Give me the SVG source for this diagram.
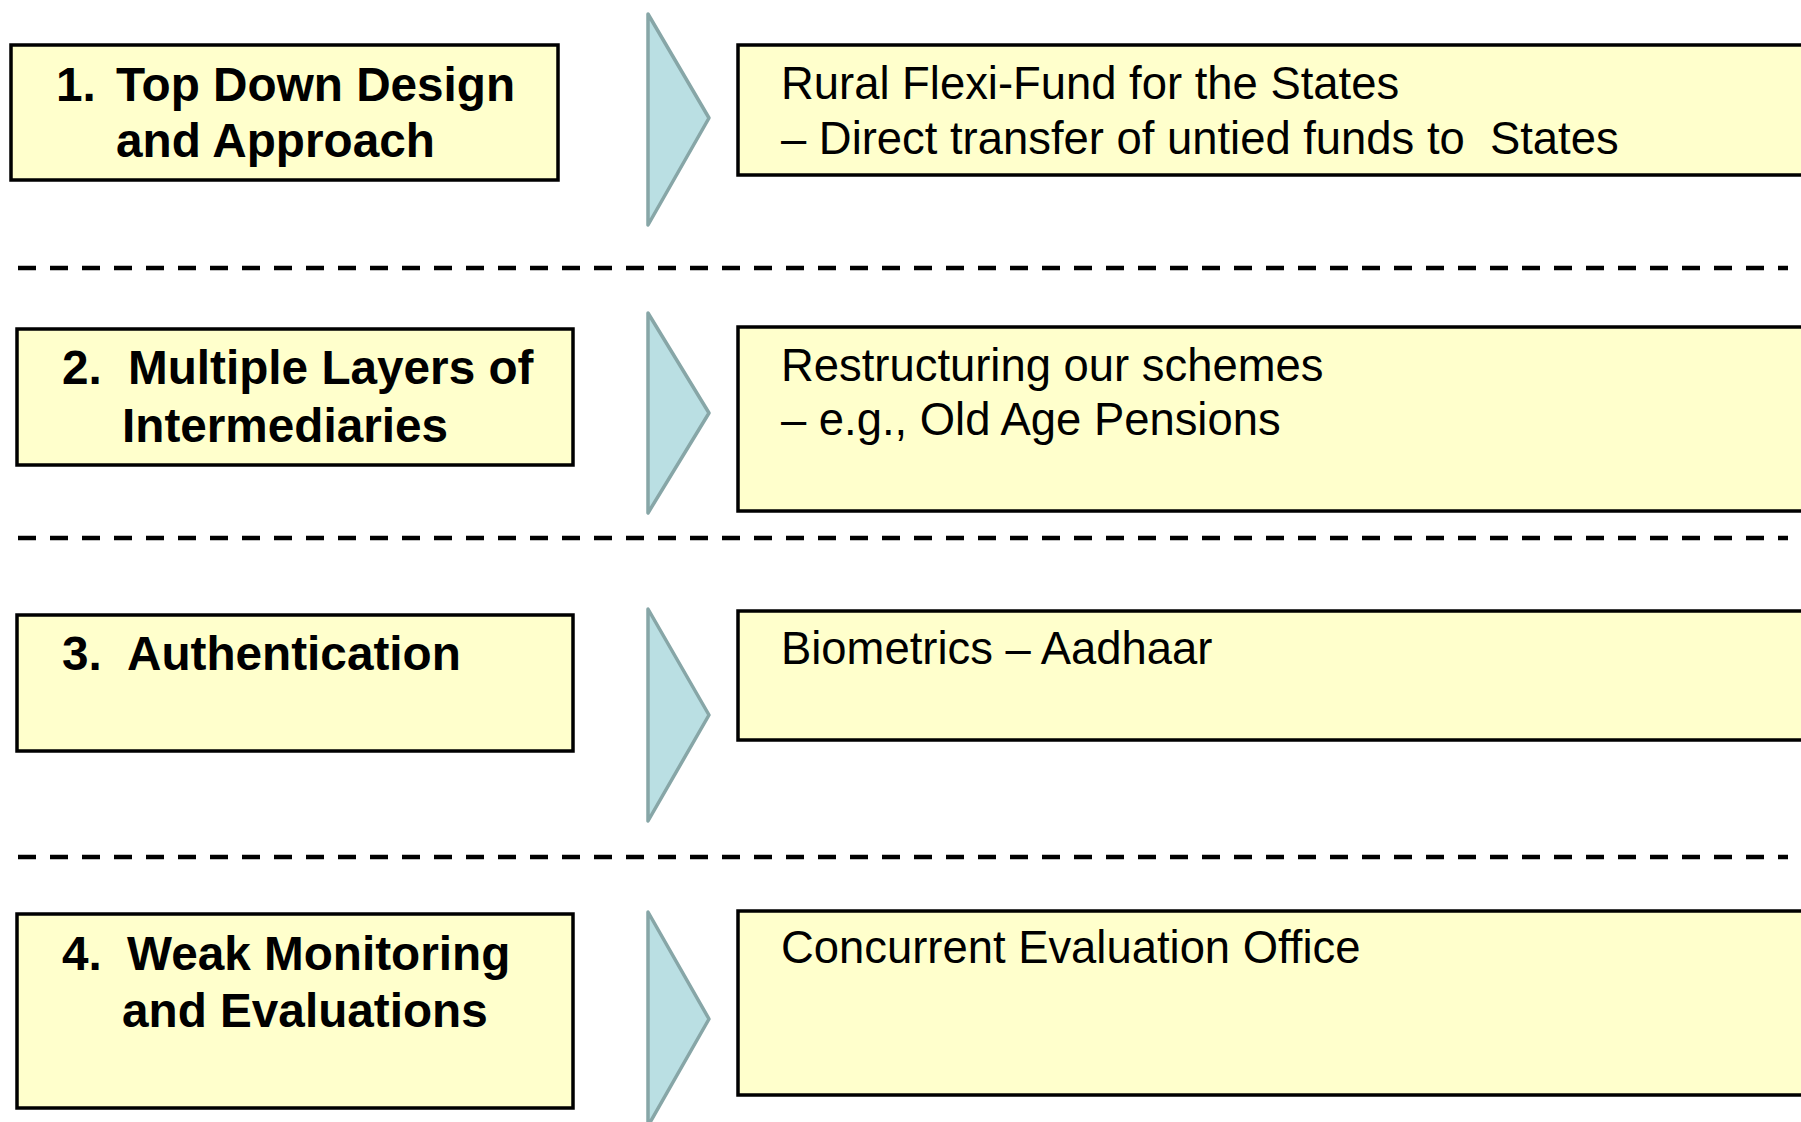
<svg xmlns="http://www.w3.org/2000/svg" width="1801" height="1122" viewBox="0 0 1801 1122">
<style>
.box{fill:#FFFFCC;stroke:#000;stroke-width:3.5}
.arr{fill:#BADFE3;stroke:#87A6A7;stroke-width:3.5;stroke-linejoin:round}
.sep{stroke:#000;stroke-width:4.5;stroke-dasharray:18 14;fill:none}
.b{font-family:"Liberation Sans",Arial,sans-serif;font-weight:bold;font-size:47.7px;fill:#000}
.r{font-family:"Liberation Sans",Arial,sans-serif;font-size:45.4px;fill:#000;white-space:pre}
</style>
<rect width="1801" height="1122" fill="#fff"/>
<g id="separators">
<line class="sep" x1="18" y1="268" x2="1788" y2="268"/>
<line class="sep" x1="18" y1="538" x2="1788" y2="538"/>
<line class="sep" x1="18" y1="857" x2="1788" y2="857"/>
</g>
<g id="connectors">
<polygon class="arr" points="648,14 709,118 648,225"/>
<polygon class="arr" points="648,313 709,413 648,513"/>
<polygon class="arr" points="648,609 709,715 648,821"/>
<polygon class="arr" points="648,912 709,1019 648,1126"/>
</g>
<g id="issue1">
<rect class="box" x="11" y="45" width="547" height="135"/>
<text class="b"><tspan x="56" y="101">1.</tspan><tspan x="116" y="101">Top Down Design</tspan><tspan x="116" y="157">and Approach</tspan></text>
</g>
<g id="solution1">
<rect class="box" x="738" y="45" width="1070" height="130"/>
<text class="r"><tspan x="781" y="99">Rural Flexi-Fund for the States</tspan><tspan x="781" y="154">– Direct transfer of untied funds to  States</tspan></text>
</g>
<g id="issue2">
<rect class="box" x="17" y="329" width="556" height="136"/>
<text class="b"><tspan x="62" y="384">2.</tspan><tspan x="128" y="384">Multiple Layers of</tspan><tspan x="122" y="442">Intermediaries</tspan></text>
</g>
<g id="solution2">
<rect class="box" x="738" y="327" width="1070" height="184"/>
<text class="r"><tspan x="781" y="381">Restructuring our schemes</tspan><tspan x="781" y="435">– e.g., Old Age Pensions</tspan></text>
</g>
<g id="issue3">
<rect class="box" x="17" y="615" width="556" height="136"/>
<text class="b"><tspan x="62" y="670">3.</tspan><tspan x="127" y="670">Authentication</tspan></text>
</g>
<g id="solution3">
<rect class="box" x="738" y="611" width="1070" height="129"/>
<text class="r"><tspan x="781" y="664">Biometrics – Aadhaar</tspan></text>
</g>
<g id="issue4">
<rect class="box" x="17" y="914" width="556" height="194"/>
<text class="b"><tspan x="62" y="970">4.</tspan><tspan x="127" y="970">Weak Monitoring</tspan><tspan x="122" y="1027">and Evaluations</tspan></text>
</g>
<g id="solution4">
<rect class="box" x="738" y="911" width="1070" height="184"/>
<text class="r"><tspan x="781" y="963">Concurrent Evaluation Office</tspan></text>
</g>
</svg>
